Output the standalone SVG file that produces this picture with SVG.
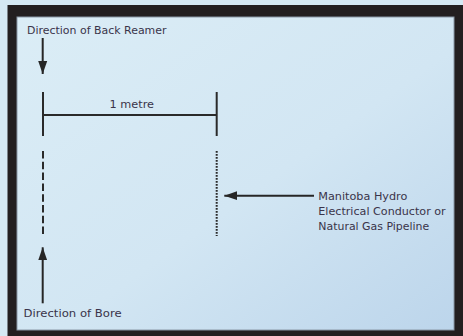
<svg xmlns="http://www.w3.org/2000/svg" width="463" height="336" viewBox="0 0 463 336">
  <defs>
    <linearGradient id="bg" x1="0" y1="0" x2="1" y2="1">
      <stop offset="0" stop-color="#dbedf6"/>
      <stop offset="0.55" stop-color="#d2e6f3"/>
      <stop offset="1" stop-color="#bcd5eb"/>
    </linearGradient>
    <marker id="arrow" markerUnits="userSpaceOnUse" markerWidth="14" markerHeight="10" refX="13" refY="5" orient="auto">
      <path d="M0,0.5 L13,5 L0,9.5 z" fill="#262626"/>
    </marker>
    <style>
      .lbl { font-family: "DejaVu Sans", "Liberation Sans", sans-serif; font-size: 10.8px; fill: #3a344a; }
      .ln { stroke: #2a2a2a; stroke-width: 2; fill: none; }
      .arr { stroke: #262626; stroke-width: 2; fill: none; marker-end: url(#arrow); }
    </style>
  </defs>

  <rect x="0" y="0" width="463" height="336" fill="#d5e9f4"/>
  <rect x="7.5" y="5" width="460" height="340" fill="#231f20"/>
  <rect x="17" y="17" width="437" height="313" fill="url(#bg)" stroke="#8a98a6" stroke-width="1"/>

  <g id="back-reamer">
    <text class="lbl" x="27" y="33.5" textLength="139.5" lengthAdjust="spacingAndGlyphs">Direction of Back Reamer</text>
  </g>

  <g id="measure">
    <line class="ln" x1="43" y1="92" x2="43" y2="136"/>
    <line class="ln" x1="216.7" y1="92" x2="216.7" y2="136"/>
    <line class="ln" x1="43" y1="115" x2="216.7" y2="115"/>
    <text class="lbl" x="109.5" y="107.8" textLength="44.5" lengthAdjust="spacingAndGlyphs">1 metre</text>
  </g>

  <g id="bore-path">
    <line class="ln" x1="43" y1="151" x2="43" y2="236" stroke-dasharray="7.5 3.3"/>
  </g>

  <g id="utility-line">
    <line class="ln" x1="216.7" y1="151" x2="216.7" y2="236" stroke-dasharray="1.8 1.2"/>
  </g>

  <g id="utility-label">
    <text class="lbl" x="318.3" y="200" textLength="89" lengthAdjust="spacingAndGlyphs">Manitoba Hydro</text>
    <text class="lbl" x="318.3" y="215" textLength="127.4" lengthAdjust="spacingAndGlyphs">Electrical Conductor or</text>
    <text class="lbl" x="318.3" y="230" textLength="111" lengthAdjust="spacingAndGlyphs">Natural Gas Pipeline</text>
  </g>

  <g id="bore">
    <text class="lbl" x="23.5" y="316.7" textLength="98.2" lengthAdjust="spacingAndGlyphs">Direction of Bore</text>
  </g>

  <g id="connectors">
    <line class="arr" x1="42.7" y1="38" x2="42.7" y2="74"/>
    <line class="arr" x1="314" y1="195.7" x2="224.3" y2="195.7"/>
    <line class="arr" x1="42.7" y1="303.3" x2="42.7" y2="247.3"/>
  </g>
</svg>
